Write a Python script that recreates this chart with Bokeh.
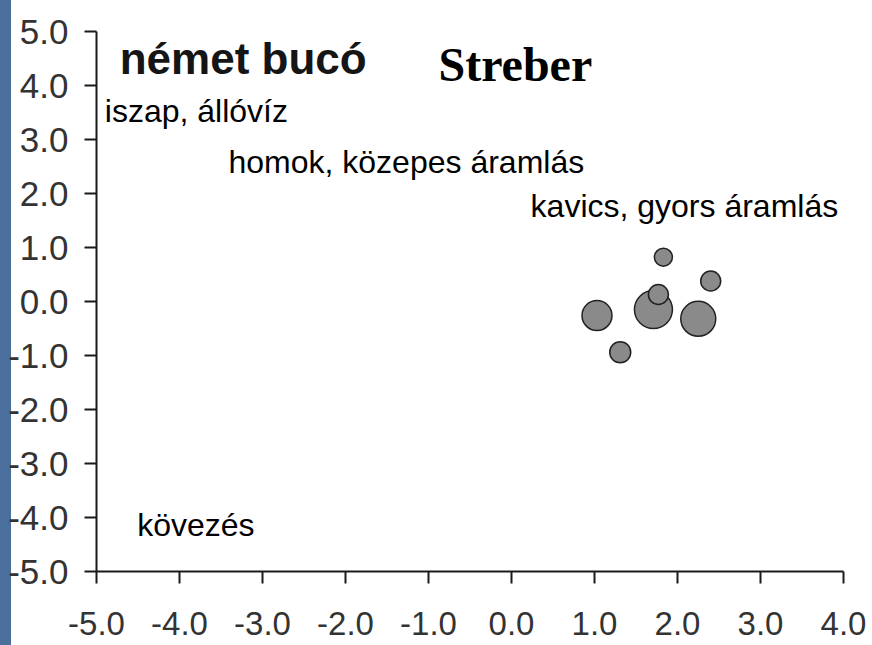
from bokeh.plotting import figure
from bokeh.models import ColumnDataSource, FixedTicker, Range1d
from bokeh.core.properties import value
from bokeh.embed import file_html
from bokeh.resources import INLINE

# bubble data
bx = [1.83, 2.40, 1.03, 1.71, 1.77, 2.25, 1.31]
by = [0.82, 0.38, -0.26, -0.15, 0.13, -0.32, -0.94]
bsize = [18, 20, 30, 38, 20, 35, 21]

# axis ticks
xticks = [-5.0, -4.0, -3.0, -2.0, -1.0, 0.0, 1.0, 2.0, 3.0, 4.0]
yticks = [-5.0, -4.0, -3.0, -2.0, -1.0, 0.0, 1.0, 2.0, 3.0, 4.0, 5.0]

# habitat labels
hab_text = ["iszap, állóvíz", "homok, közepes áramlás", "kavics, gyors áramlás", "kövezés"]
hab_x = [-4.90, -3.41, 0.23, -4.51]
hab_y = [3.52, 2.59, 1.77, -4.13]

species_title = "német bucó"
species_title_x, species_title_y = -4.72, 4.50
group_title = "Streber"
group_title_x, group_title_y = -0.88, 4.38

p = figure(frame_width=747, frame_height=540, output_backend="svg", toolbar_location=None,
           x_range=Range1d(-5, 4), y_range=Range1d(-5, 5),
           min_border_left=96, min_border_right=29, min_border_top=31, min_border_bottom=74,
           background_fill_color="white", border_fill_alpha=0, outline_line_color=None)
p.grid.visible = False

for ax in (p.xaxis[0], p.yaxis[0]):
    ax.axis_line_color = "#1a1a1a"
    ax.axis_line_width = 2
    ax.major_tick_line_color = "#1a1a1a"
    ax.major_tick_line_width = 2
    ax.major_tick_out = 12
    ax.major_tick_in = 0
    ax.minor_tick_out = 0
    ax.minor_tick_in = 0
    ax.major_label_text_font = "Liberation Sans"
    ax.major_label_text_color = "#333333"

p.xaxis.major_label_text_font_size = "33px"
p.yaxis.major_label_text_font_size = "35px"
p.xaxis.ticker = FixedTicker(ticks=xticks)
p.yaxis.ticker = FixedTicker(ticks=yticks)
p.xaxis.major_label_overrides = {t: f"{t:.1f}" for t in xticks}
p.yaxis.major_label_overrides = {t: f"{t:.1f}" for t in yticks}
p.xaxis.major_label_standoff = 28
p.yaxis.major_label_standoff = 16

src = ColumnDataSource(dict(x=bx, y=by, s=bsize))
p.scatter("x", "y", size="s", source=src, fill_color="#8a8a8a", line_color="#222222", line_width=1.5)

p.text(hab_x, hab_y, text=hab_text, text_font=value("Liberation Sans"), text_font_size="32px",
       text_color="black", text_baseline="alphabetic", text_align="left")
p.text([species_title_x], [species_title_y], text=[species_title], text_font=value("Liberation Sans"),
       text_font_size="44px", text_font_style="bold", text_color="#151515",
       text_baseline="alphabetic", text_align="left")
p.text([group_title_x], [group_title_y], text=[group_title], text_font=value("Liberation Serif"),
       text_font_size="48px", text_font_style="bold", text_color="black",
       text_baseline="alphabetic", text_align="left")

html = file_html(p, INLINE)
html = html.replace("</head>", "<style>html{background:linear-gradient(90deg,#4b6f9d 11px,#ffffff 11px);}html,body{overflow:hidden;}</style></head>", 1)
open("out.html", "w").write(html)
